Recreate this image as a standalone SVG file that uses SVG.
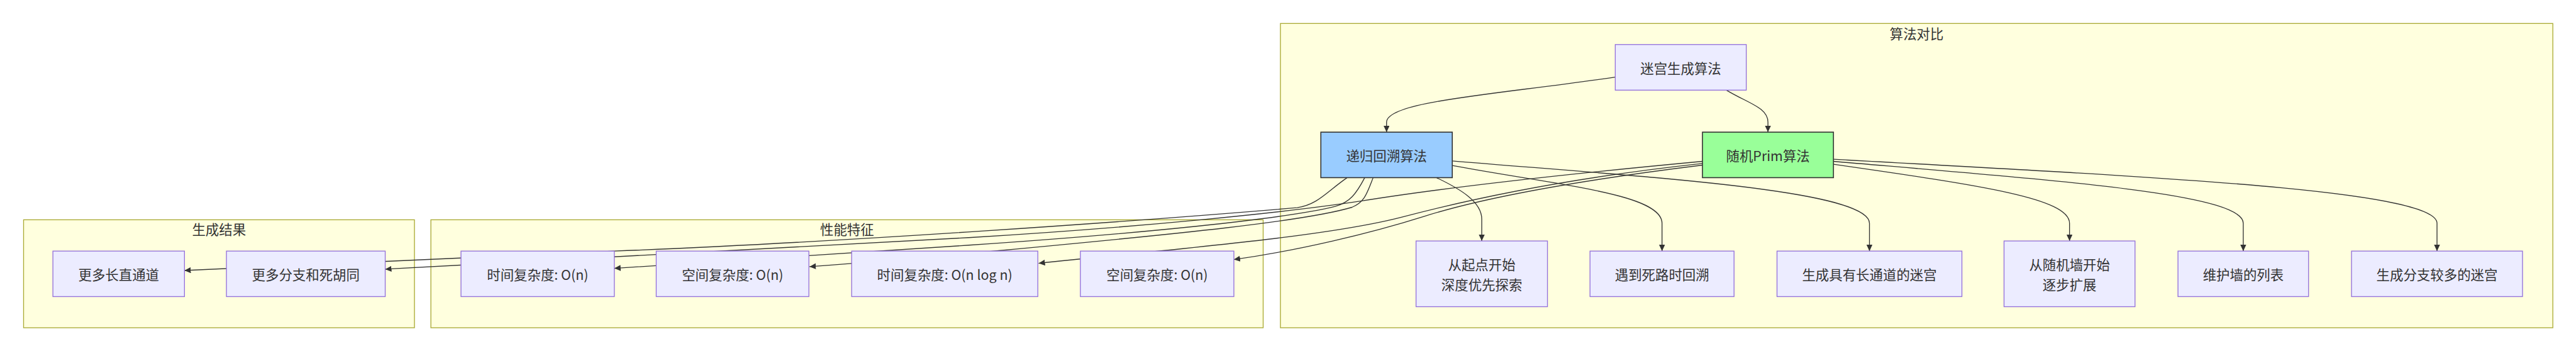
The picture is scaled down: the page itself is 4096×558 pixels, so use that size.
<svg xmlns="http://www.w3.org/2000/svg" width="4096" height="558" viewBox="0 0 4096 558">
<defs>
<marker id="arr" markerUnits="userSpaceOnUse" markerWidth="16" markerHeight="16" refX="15" refY="7" orient="auto"><path d="M0,0 L15,7 L0,14 z" fill="#333"/></marker>
<style>
.cl{fill:#ffffde;stroke:#aaaa33;stroke-width:2}
.nd{fill:#ECECFF;stroke:#9370DB;stroke-width:2}
.bt{fill:#99ccff;stroke:#333;stroke-width:2.4}
.gr{fill:#99ff99;stroke:#333;stroke-width:2.4}
.e{fill:none;stroke:#333;stroke-width:2;marker-end:url(#arr)}
text{font-family:"Noto Sans CJK SC","Liberation Sans",sans-serif;font-size:32px;fill:#333;text-anchor:middle;dominant-baseline:central}
</style>
</defs>
<rect width="4096" height="558" fill="#fff"/>
<g transform="scale(0.66972)">
<g id="clusters">
<g id="c_compare"><rect class="cl" x="3040" y="55.7" width="3021" height="722.3"/><text x="4550.5" y="78">算法对比</text></g>
<g id="c_perf"><rect class="cl" x="1023" y="521.7" width="1976" height="256.3"/><text x="2011" y="543.5">性能特征</text></g>
<g id="c_result"><rect class="cl" x="56" y="521.7" width="928" height="256.3"/><text x="520" y="543.5">生成结果</text></g>
</g>
<g id="edges">
<path class="e" d="M3835,183 C3550,225 3292,240 3292,290 L3292,313.7"/>
<path class="e" d="M4099,214 C4150,245 4197.5,255 4197.5,290 L4197.5,313.7"/>
<path class="e" d="M3411,422 C3470,450 3518,480 3518,520 L3518,572"/>
<path class="e" d="M3448,393 C3700,440 3946,460 3946,530 L3946,596"/>
<path class="e" d="M3448,382 C3900,420 4438.5,450 4438.5,530 L4438.5,596"/>
<path class="e" d="M4353,390 C4700,440 4913.5,470 4913.5,530 L4913.5,572"/>
<path class="e" d="M4353,383 C4900,430 5326,460 5326,530 L5326,596"/>
<path class="e" d="M4353,378 C5100,420 5786,450 5786,530 L5786,596"/>
<path class="e" d="M3198,422 C3150,455 3130,485 3080,493 C2700,525 2000,575 1458,596 L438,642"/>
<path class="e" d="M3240,422 C3220,460 3205,480 3170,490 C3050,520 2700,555 2300,582 C2000,602 1700,622 1458.5,637"/>
<path class="e" d="M3260,422 C3245,460 3240,480 3210,492 C3100,525 2800,555 2371,595 C2200,611 2050,624 1922,633"/>
<path class="e" d="M4042,383 C3700,415 3400,450 3233,477 C3050,505 2700,540 2300,564 C1900,588 1500,609 914.5,639"/>
<path class="e" d="M4042,388 C3700,425 3470,478 3330,515 C3150,562 2800,590 2466,625"/>
<path class="e" d="M4042,392 C3750,428 3520,470 3383,513 C3250,555 3080,595 2929.5,616"/>
</g>
<g id="n_maze"><rect class="nd" x="3835" y="105.7" width="311" height="108.3"/><text x="3990.5" y="160">迷宫生成算法</text></g>
<g id="n_backtrack"><rect class="bt" x="3136" y="313.7" width="312" height="108"/><text x="3292" y="367.7">递归回溯算法</text></g>
<g id="n_prim"><rect class="gr" x="4042" y="313.7" width="311" height="108"/><text x="4197.5" y="367.7">随机Prim算法</text></g>
<g id="n_dfs"><rect class="nd" x="3362" y="572" width="312" height="156"/><text x="3518" y="626">从起点开始</text><text x="3518" y="674">深度优先探索</text></g>
<g id="n_dead"><rect class="nd" x="3775" y="596" width="342" height="108"/><text x="3946" y="650">遇到死路时回溯</text></g>
<g id="n_long"><rect class="nd" x="4219" y="596" width="439" height="108"/><text x="4438.5" y="650">生成具有长通道的迷宫</text></g>
<g id="n_wall"><rect class="nd" x="4758" y="572" width="311" height="156"/><text x="4913.5" y="626">从随机墙开始</text><text x="4913.5" y="674">逐步扩展</text></g>
<g id="n_list"><rect class="nd" x="5171" y="596" width="310" height="108"/><text x="5326" y="650">维护墙的列表</text></g>
<g id="n_branch"><rect class="nd" x="5583" y="596" width="406" height="108"/><text x="5786" y="650">生成分支较多的迷宫</text></g>
<g id="n_time1"><rect class="nd" x="1094.5" y="596" width="364" height="108"/><text x="1276.5" y="650">时间复杂度: O(n)</text></g>
<g id="n_space1"><rect class="nd" x="1558" y="596" width="362.5" height="108"/><text x="1739.3" y="650">空间复杂度: O(n)</text></g>
<g id="n_time2"><rect class="nd" x="2022" y="596" width="442" height="108"/><text x="2243" y="650">时间复杂度: O(n log n)</text></g>
<g id="n_space2"><rect class="nd" x="2565" y="596" width="364.5" height="108"/><text x="2747.3" y="650">空间复杂度: O(n)</text></g>
<g id="n_straight"><rect class="nd" x="125.6" y="596" width="312.4" height="108"/><text x="281.8" y="650">更多长直通道</text></g>
<g id="n_deadend"><rect class="nd" x="537.6" y="596" width="377" height="108"/><text x="726.1" y="650">更多分支和死胡同</text></g>
</g>
</svg>
